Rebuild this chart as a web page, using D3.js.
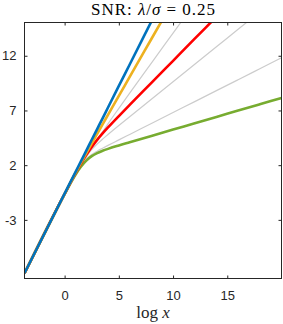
<!DOCTYPE html>
<html>
<head>
<meta charset="utf-8">
<script src="https://cdn.jsdelivr.net/npm/d3@7"></script>
<style>
body { margin: 0; background: #fff; }
svg { display: block; }
</style>
</head>
<body>
<svg id="chart" width="283" height="324"></svg>
<script>
// values (x axis is log x)
var logX = [-3.7, 0, 1, 1.5, 2, 2.5, 3, 3.5, 4, 5, 6, 8, 10, 12, 14, 16, 18, 20];
var blueY = [-7.88, -0.60, 1.37, 2.35, 3.33, 4.32, 5.30, 6.28, 7.27, 9.24, 11.20, 15.14, 19.07, 23.0, 26.9, 30.9, 34.8, 38.7];
var yellowY = [-7.9, -0.62, 1.30, 2.2, 3.1, 3.99, 4.87, 5.73, 6.6, 8.33, 10.07, 13.53, 16.99, 20.45, 23.9, 27.4, 30.8, 34.3];
var redY = [-7.9, -0.63, 1.25, 2.13, 2.94, 3.67, 4.31, 4.90, 5.45, 6.49, 7.51, 9.52, 11.54, 13.56, 15.57, 17.59, 19.6, 21.6];
var greenY = [-7.88, -0.65, 1.12, 1.85, 2.42, 2.82, 3.10, 3.31, 3.49, 3.80, 4.09, 4.67, 5.25, 5.83, 6.41, 6.99, 7.57, 8.15];
var gray1Y = [-7.9, -0.74, 1.1, 1.95, 2.74, 3.55, 4.31, 5.05, 5.78, 7.19, 8.58, 11.33, 14.07, 16.81, 19.55, 22.3, 25.0, 27.8];
var gray2Y = [-7.9, -0.62, 1.25, 2.08, 2.81, 3.42, 3.93, 4.38, 4.80, 5.62, 6.42, 8.02, 9.62, 11.22, 12.82, 14.42, 16.02, 17.62];
var gray3Y = [-7.9, -0.62, 1.22, 1.98, 2.56, 2.97, 3.28, 3.55, 3.81, 4.31, 4.81, 5.81, 6.81, 7.81, 8.81, 9.81, 10.81, 11.81];

var xTicks = [0, 5, 10, 15];
var yTicks = [12, 7, 2, -3];

var svg = d3.select("#chart"),
    width = +svg.attr("width"),
    height = +svg.attr("height");

var plotLeft = 24.5, plotRight = 281.5, plotTop = 22.5, plotBottom = 278.5;

var x = d3.scaleLinear().domain([-3.7, 20]).range([plotLeft, plotRight]);
var y = d3.scaleLinear().domain([-8.36, 15.04]).range([plotBottom, plotTop]);

var axisColor = "#262626";

svg.append("clipPath").attr("id", "plotclip")
    .append("rect")
    .attr("x", plotLeft).attr("y", plotTop)
    .attr("width", plotRight - plotLeft).attr("height", plotBottom - plotTop);

// lines, gray ones first so colours sit on top
var series = [
    {v: gray1Y, color: "#cccccc", w: 1.2},
    {v: gray2Y, color: "#cccccc", w: 1.2},
    {v: gray3Y, color: "#cccccc", w: 1.2},
    {v: greenY, color: "#77ac30", w: 2.6},
    {v: redY, color: "#ff0000", w: 2.6},
    {v: yellowY, color: "#edb120", w: 2.6},
    {v: blueY, color: "#0072bd", w: 2.6}
];

var line = d3.line()
    .x(function(d, i) { return x(logX[i]); })
    .y(function(d) { return y(d); })
    .curve(d3.curveMonotoneX);

svg.append("g")
    .attr("clip-path", "url(#plotclip)")
    .selectAll("path")
    .data(series).enter()
    .append("path")
    .attr("fill", "none")
    .attr("stroke", function(d) { return d.color; })
    .attr("stroke-width", function(d) { return d.w; })
    .attr("stroke-linejoin", "round")
    .attr("d", function(d) { return line(d.v); });

// axes, ticks pointing inwards on all four sides
function styleAxis(g) {
    g.select(".domain").remove();
    g.selectAll(".tick line").attr("stroke", axisColor);
    g.selectAll(".tick text")
        .attr("fill", axisColor)
        .style("font-family", "'Liberation Sans', Arial, sans-serif")
        .style("font-size", "13px");
}

svg.append("g")
    .attr("transform", "translate(0," + plotBottom + ")")
    .call(d3.axisBottom(x).tickValues(xTicks).tickSizeInner(-3).tickSizeOuter(0).tickPadding(12)
        .tickFormat(function(d) { return String(d); }))
    .call(styleAxis);

svg.append("g")
    .attr("transform", "translate(0," + plotTop + ")")
    .call(d3.axisTop(x).tickValues(xTicks).tickSizeInner(-3).tickSizeOuter(0).tickFormat(""))
    .call(styleAxis);

svg.append("g")
    .attr("transform", "translate(" + plotLeft + ",0)")
    .call(d3.axisLeft(y).tickValues(yTicks).tickSizeInner(-3).tickSizeOuter(0).tickPadding(8)
        .tickFormat(function(d) { return String(d); }))
    .call(styleAxis);

svg.append("g")
    .attr("transform", "translate(" + plotRight + ",0)")
    .call(d3.axisRight(y).tickValues(yTicks).tickSizeInner(-3).tickSizeOuter(0).tickFormat(""))
    .call(styleAxis);

// box
svg.append("rect")
    .attr("x", plotLeft).attr("y", plotTop)
    .attr("width", plotRight - plotLeft).attr("height", plotBottom - plotTop)
    .attr("fill", "none")
    .attr("stroke", axisColor)
    .attr("stroke-width", 1);

// title
var title = svg.append("text")
    .attr("x", (plotLeft + plotRight) / 2)
    .attr("y", 15)
    .attr("text-anchor", "middle")
    .attr("textLength", 124)
    .attr("lengthAdjust", "spacing")
    .style("font-family", "'Liberation Serif', 'Times New Roman', serif")
    .style("font-size", "17px")
    .style("white-space", "pre")
    .attr("fill", "#000");
title.append("tspan").text("SNR: ");
title.append("tspan").style("font-style", "italic").text("λ");
title.append("tspan").text("/");
title.append("tspan").style("font-style", "italic").text("σ");
title.append("tspan").text(" = 0.25");

// x label
var xlab = svg.append("text")
    .attr("x", (plotLeft + plotRight) / 2)
    .attr("y", 318)
    .attr("text-anchor", "middle")
    .style("font-family", "'Liberation Serif', 'Times New Roman', serif")
    .style("font-size", "17px")
    .style("white-space", "pre")
    .attr("fill", axisColor);
xlab.append("tspan").text("log ");
xlab.append("tspan").style("font-style", "italic").text("x");
</script>
</body>
</html>
